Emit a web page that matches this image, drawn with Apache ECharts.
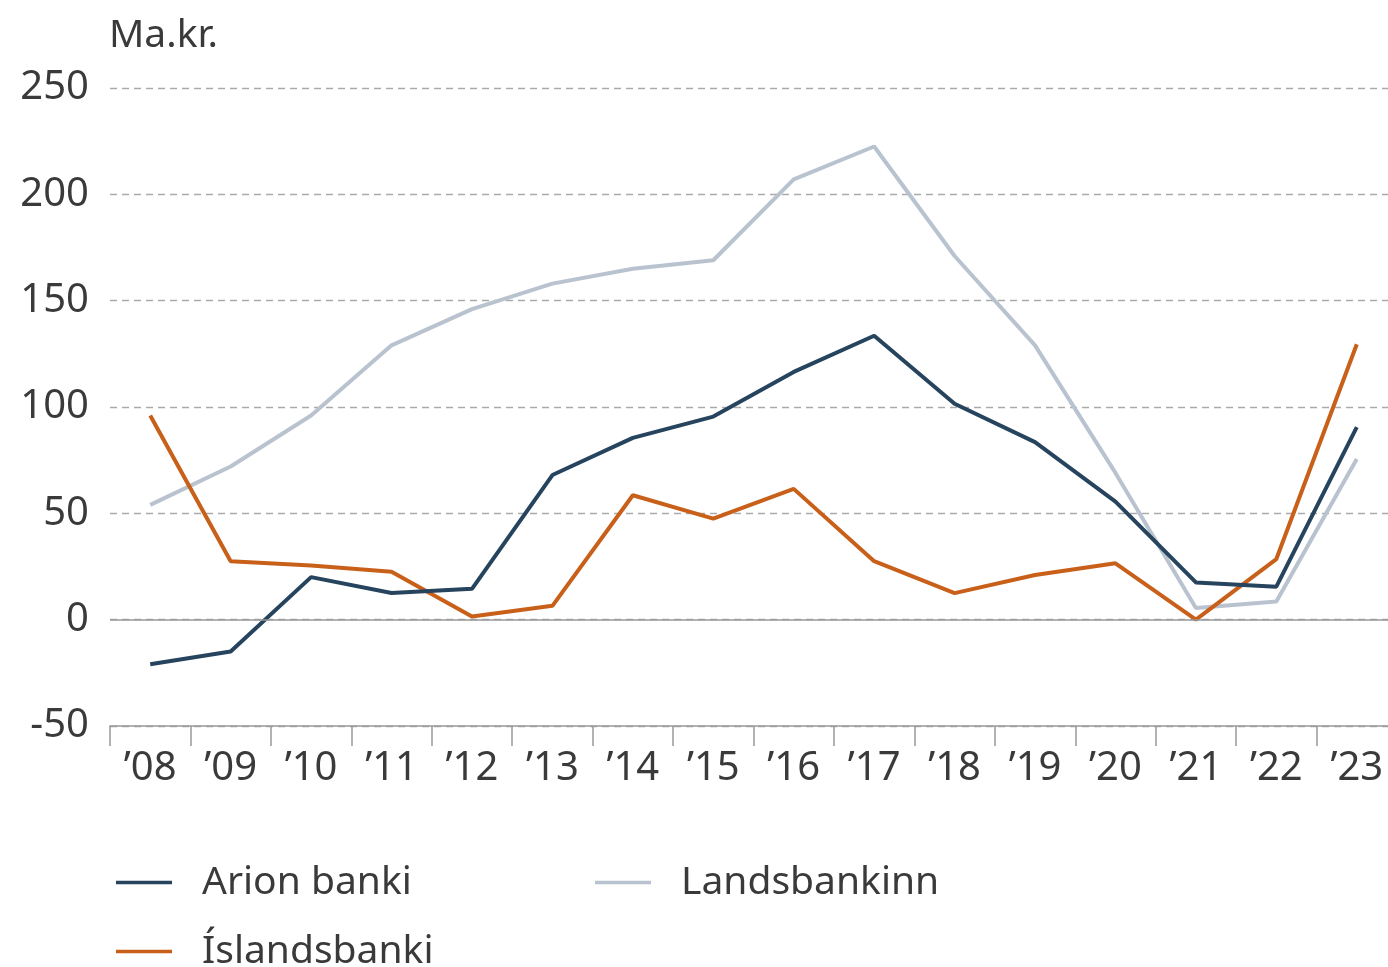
<!DOCTYPE html>
<html>
<head>
<meta charset="utf-8">
<script src="https://cdn.jsdelivr.net/npm/echarts@6/dist/echarts.min.js"></script>
<style>
  html, body { margin: 0; padding: 0; background: #fff; }
  #main { width: 1388px; height: 967px; }
</style>
</head>
<body>
<div id="main"></div>
<script>
var years = ['’08', '’09', '’10', '’11', '’12', '’13', '’14', '’15', '’16', '’17', '’18', '’19', '’20', '’21', '’22', '’23'];
var arion = [-21, -15, 20, 12.5, 14.5, 68, 85.5, 95.5, 116.5, 133.5, 101.5, 83.5, 55.5, 17.5, 15.5, 90.5];
var islandsbanki = [96, 27.5, 25.5, 22.5, 1.5, 6.5, 58.5, 47.5, 61.5, 27.5, 12.5, 21, 26.5, 0, 28.5, 129.5];
var landsbankinn = [54, 72, 96, 129, 146, 158, 165, 169, 207, 222.5, 171, 129, 69, 5.5, 8.5, 75.5];

var font = '"Noto Sans", "Open Sans", sans-serif';
var textColor = '#3a3a3a';

var myChart = echarts.init(document.getElementById('main'));

function legendAt(name, left, top) {
  return {
    data: [name],
    left: left,
    top: top,
    icon: 'rect',
    itemWidth: 56,
    itemHeight: 3.5,
    itemGap: 30,
    textStyle: { fontFamily: font, fontSize: 39, color: textColor, padding: [0, 0, 0, 25] }
  };
}

myChart.setOption({
  animation: false,
  textStyle: { fontFamily: font },
  title: {
    text: 'Ma.kr.',
    left: 104,
    top: 11,
    textStyle: { fontFamily: font, fontSize: 39, fontWeight: 'normal', color: textColor }
  },
  legend: [
    legendAt('Arion banki', 111, 858),
    legendAt('Landsbankinn', 590, 858),
    legendAt('Íslandsbanki', 111, 927)
  ],
  grid: {
    left: 110,
    top: 88,
    width: 1287,
    height: 638,
    outerBoundsMode: 'none',
    containLabel: false
  },
  xAxis: {
    type: 'category',
    data: years,
    boundaryGap: true,
    axisLine: { show: true, onZero: false, lineStyle: { color: '#999', width: 1.5 } },
    axisTick: { show: true, alignWithLabel: false, length: 20, lineStyle: { color: '#999', width: 1.5 } },
    axisLabel: { fontFamily: font, fontSize: 40, color: textColor, margin: 23 }
  },
  yAxis: {
    type: 'value',
    min: -50,
    max: 250,
    interval: 50,
    axisLine: { show: false },
    axisTick: { show: false },
    axisLabel: { fontFamily: font, fontSize: 40, color: textColor, margin: 21 },
    splitLine: {
      show: true,
      lineStyle: { color: '#aaa', type: [7, 5], width: 1.3 }
    }
  },
  series: [
    {
      name: 'Arion banki',
      type: 'line',
      data: arion,
      symbol: 'none',
      lineStyle: { color: '#26445e', width: 4 },
      itemStyle: { color: '#26445e' },
      z: 4,
      markLine: {
        silent: true,
        symbol: 'none',
        label: { show: false },
        lineStyle: { color: '#999', type: 'solid', width: 1.5 },
        data: [{ yAxis: 0 }]
      }
    },
    {
      name: 'Íslandsbanki',
      type: 'line',
      data: islandsbanki,
      symbol: 'none',
      lineStyle: { color: '#c8601a', width: 4 },
      itemStyle: { color: '#c8601a' },
      z: 3
    },
    {
      name: 'Landsbankinn',
      type: 'line',
      data: landsbankinn,
      symbol: 'none',
      lineStyle: { color: '#b9c3cf', width: 4 },
      itemStyle: { color: '#b9c3cf' },
      z: 2
    }
  ]
});
</script>
</body>
</html>
